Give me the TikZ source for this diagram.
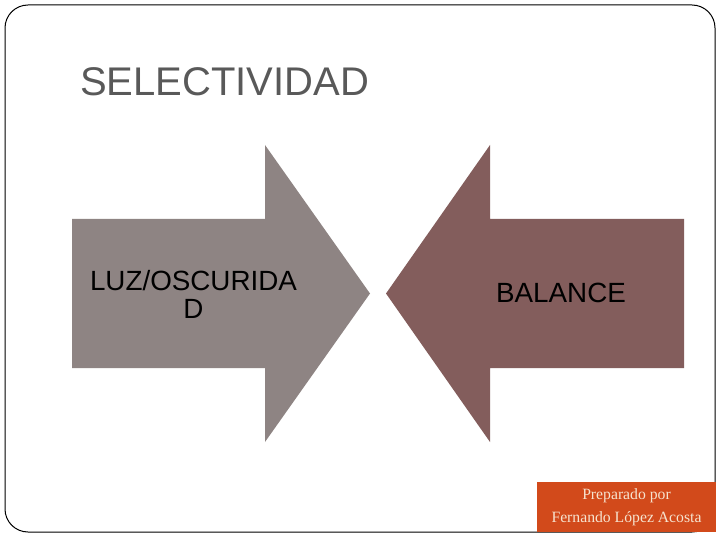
\documentclass[tikz,border=0pt]{standalone}
\usepackage{fontspec}
\setmainfont{Liberation Sans}
\newfontfamily\firmafont{Liberation Serif}
\usepackage{xcolor}
\usetikzlibrary{positioning}

\definecolor{luzgris}{HTML}{8E8483}
\definecolor{balancerojo}{HTML}{835D5C}
\definecolor{firmanaranja}{HTML}{D24A1B}
\definecolor{firmatexto}{HTML}{F6E3CF}
\definecolor{titulogris}{HTML}{595959}

\begin{document}
\begin{tikzpicture}[
    x=1pt, y=-1pt,
    marco/.style={draw=black, line width=1pt, rounded corners=23pt},
    flecha/.style={draw=none},
    etiqueta/.style={font=\fontsize{27.8}{28}\selectfont, text=black, align=center, inner sep=0pt},
    titulo/.style={font=\fontsize{40}{44}\selectfont, text=titulogris, inner sep=0pt},
    firma/.style={fill=firmanaranja, text=firmatexto, font=\firmafont\fontsize{15.7}{23}\selectfont, align=center, minimum width=179pt, minimum height=50pt, inner sep=0pt}
]
    \useasboundingbox (0,0) rectangle (720,540);
    \draw[marco] (5,5) rectangle (715,532);

    \node[titulo, anchor=base west] (titulo) at (80,96) {SELECTIVIDAD};

    % flechas
    \fill[flecha, luzgris] (72,219) -- (265,219) -- (265,145) -- (370,293.5) -- (265,442) -- (265,368) -- (72,368) -- cycle;
    \fill[flecha, balancerojo] (684,219) -- (490,219) -- (490,145) -- (386,293.5) -- (490,442) -- (490,368) -- (684,368) -- cycle;

    \node[etiqueta] (luz) at (193.5,294) {LUZ/OSCURIDA\\D};
    \node[etiqueta] (balance) at (561,293) {BALANCE};

    \node[firma] (autor) at (626.5,507) {Preparado por\\Fernando López Acosta};
\end{tikzpicture}
\end{document}
